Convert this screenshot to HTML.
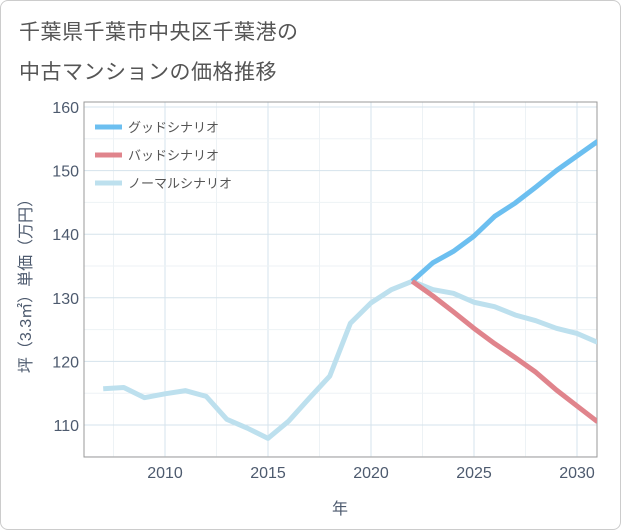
<!DOCTYPE html>
<html><head><meta charset="utf-8"><style>
body{margin:0;background:#fff;}
#wrap{position:relative;width:619px;height:528px;border:1px solid #ccc;border-radius:8px;background:#fff;overflow:hidden;font-family:"Liberation Sans","Noto Sans CJK JP",sans-serif;}
.t{position:absolute;left:18px;font-size:21px;color:#555;letter-spacing:0.5px;}
</style></head><body>
<div id="wrap">
<div class="t" style="top:15px">千葉県千葉市中央区千葉港の</div>
<div class="t" style="top:55px">中古マンションの価格推移</div>
<svg id="c" width="621" height="530" style="position:absolute;left:-1px;top:-1px"></svg>
</div>
<script>
const years=[2007,2008,2009,2010,2011,2012,2013,2014,2015,2016,2017,2018,2019,2020,2021,2022,2023,2024,2025,2026,2027,2028,2029,2030,2031];
const normal=[115.7,115.9,114.3,114.9,115.4,114.5,110.9,109.5,107.9,110.6,114.2,117.7,126,129.2,131.3,132.6,131.3,130.7,129.3,128.6,127.3,126.4,125.2,124.4,123];
const futureYears=[2022,2023,2024,2025,2026,2027,2028,2029,2030,2031];
const good=[132.6,135.5,137.3,139.7,142.8,144.9,147.4,150.0,152.3,154.6];
const bad=[132.6,130.3,127.8,125.2,122.8,120.6,118.3,115.5,113.0,110.5];
const xTicks=[2010,2015,2020,2025,2030];
const yTicks=[110,120,130,140,150,160];
const ns="http://www.w3.org/2000/svg";
const svg=document.getElementById('c');
const L=84,R=597,T=102,B=457;
const x=v=>165+(v-2010)*20.6;
const y=v=>425-(v-110)*6.36;
function el(tag,attrs){const e=document.createElementNS(ns,tag);for(const k in attrs)e.setAttribute(k,attrs[k]);svg.appendChild(e);return e;}
let e;
for(let v=2007.5;v<2032;v+=2.5){if(x(v)>L&&x(v)<R){e=el('line',{x1:x(v),x2:x(v),y1:T,y2:B,stroke:Number.isInteger(v)&&v%5===0?'#d5e3ec':'#edf2f5','stroke-width':1});

}}
for(let v=105;v<=162;v+=5){if(y(v)>T&&y(v)<B){e=el('line',{x1:L,x2:R,y1:y(v),y2:y(v),stroke:v%10===0?'#d5e3ec':'#edf2f5','stroke-width':1});

}}
e=el('rect',{x:L,y:T,width:R-L,height:B-T,fill:'none',stroke:'#999','stroke-width':1});


xTicks.forEach(v=>{e=el('text',{x:x(v),y:478,'text-anchor':'middle','font-size':16,fill:'#4d5a6e'});e.textContent=v;

});
yTicks.forEach(v=>{e=el('text',{x:79,y:y(v)+6,'text-anchor':'end','font-size':16,fill:'#4d5a6e'});e.textContent=v;

});
e=el('text',{x:340,y:514,'text-anchor':'middle','font-size':16,fill:'#4d5a6e'});e.textContent='年';


e=el('text',{x:0,y:0,'text-anchor':'middle','font-size':16,fill:'#4d5a6e',transform:'translate(31,282) rotate(-90)'});e.textContent='坪（3.3㎡）単価（万円）';


const clip=el('clipPath',{id:'cp'});const cr=document.createElementNS(ns,'rect');cr.setAttribute('x',L);cr.setAttribute('y',T);cr.setAttribute('width',R-L);cr.setAttribute('height',B-T);clip.appendChild(cr);
function line(xs,ys,color){const d=xs.map((v,i)=>(i?'L':'M')+x(v)+','+y(ys[i])).join('');return el('path',{d:d,fill:'none',stroke:color,'stroke-width':5,'stroke-linejoin':'round','clip-path':'url(#cp)'});}
e=line(years,normal,'#bde0ee');


e=line(futureYears,good,'#6cbff0');


e=line(futureYears,bad,'#e0848c');


const leg=[['グッドシナリオ','#6cbff0'],['バッドシナリオ','#e0848c'],['ノーマルシナリオ','#bde0ee']];
leg.forEach((l,i)=>{const yy=127+i*28;
e=el('line',{x1:95,x2:122,y1:yy,y2:yy,stroke:l[1],'stroke-width':5});


e=el('text',{x:128,y:yy+5,'font-size':13,fill:'#555'});e.textContent=l[0];

});
</script>
</body></html>
